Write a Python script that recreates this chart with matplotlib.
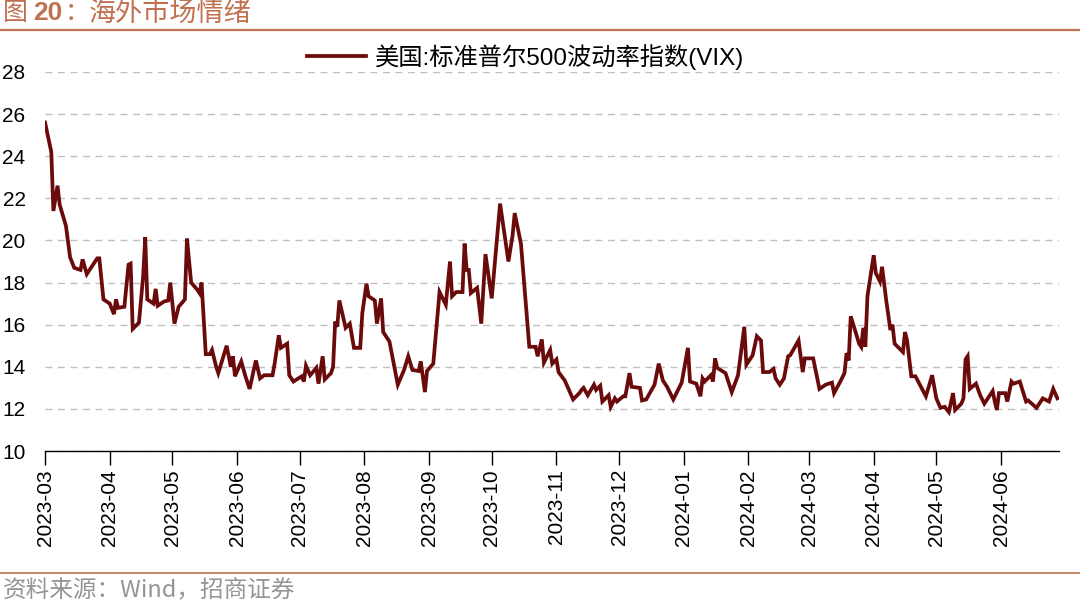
import matplotlib.pyplot as plt
import matplotlib.dates as mdates
from matplotlib.lines import Line2D
import pandas as pd

plt.rcParams['font.family'] = ['Liberation Sans', 'Noto Sans CJK SC', 'DejaVu Sans']

# VIX 读数
dates = [
    '2023-03-01', '2023-03-04', '2023-03-05', '2023-03-07', '2023-03-08', '2023-03-11', '2023-03-13',
    '2023-03-15', '2023-03-18', '2023-03-19', '2023-03-21', '2023-03-26', '2023-03-27', '2023-03-29',
    '2023-04-01', '2023-04-03', '2023-04-04', '2023-04-05', '2023-04-08', '2023-04-10', '2023-04-11',
    '2023-04-12', '2023-04-15', '2023-04-17', '2023-04-18', '2023-04-19', '2023-04-22', '2023-04-23',
    '2023-04-24', '2023-04-27', '2023-04-29', '2023-04-30', '2023-05-02', '2023-05-04', '2023-05-07',
    '2023-05-08', '2023-05-10', '2023-05-13', '2023-05-14', '2023-05-15', '2023-05-17', '2023-05-19',
    '2023-05-20', '2023-05-22', '2023-05-23', '2023-05-27', '2023-05-29', '2023-05-30', '2023-05-31',
    '2023-06-03', '2023-06-05', '2023-06-07', '2023-06-10', '2023-06-12', '2023-06-14', '2023-06-18',
    '2023-06-19', '2023-06-21', '2023-06-22', '2023-06-25', '2023-06-26', '2023-06-28', '2023-07-02',
    '2023-07-03', '2023-07-04', '2023-07-06', '2023-07-09', '2023-07-10', '2023-07-12', '2023-07-13',
    '2023-07-16', '2023-07-17', '2023-07-18', '2023-07-19', '2023-07-20', '2023-07-23', '2023-07-25',
    '2023-07-27', '2023-07-30', '2023-07-31', '2023-08-02', '2023-08-03', '2023-08-06', '2023-08-07',
    '2023-08-09', '2023-08-10', '2023-08-13', '2023-08-17', '2023-08-20', '2023-08-22', '2023-08-24',
    '2023-08-27', '2023-08-28', '2023-08-30', '2023-08-31', '2023-09-03', '2023-09-06', '2023-09-07',
    '2023-09-09', '2023-09-11', '2023-09-12', '2023-09-14', '2023-09-17', '2023-09-18', '2023-09-19',
    '2023-09-20', '2023-09-21', '2023-09-24', '2023-09-26', '2023-09-28', '2023-10-01', '2023-10-05',
    '2023-10-09', '2023-10-11', '2023-10-12', '2023-10-15', '2023-10-19', '2023-10-22', '2023-10-23',
    '2023-10-25', '2023-10-26', '2023-10-29', '2023-10-30', '2023-11-01', '2023-11-02', '2023-11-05',
    '2023-11-07', '2023-11-09', '2023-11-12', '2023-11-13', '2023-11-14', '2023-11-16', '2023-11-19',
    '2023-11-20', '2023-11-22', '2023-11-23', '2023-11-26', '2023-11-27', '2023-11-29', '2023-11-30',
    '2023-12-03', '2023-12-04', '2023-12-06', '2023-12-07', '2023-12-11', '2023-12-12', '2023-12-14',
    '2023-12-18', '2023-12-20', '2023-12-22', '2023-12-24', '2023-12-27', '2023-12-31', '2024-01-03',
    '2024-01-04', '2024-01-07', '2024-01-09', '2024-01-10', '2024-01-11', '2024-01-14', '2024-01-15',
    '2024-01-16', '2024-01-17', '2024-01-21', '2024-01-24', '2024-01-27', '2024-01-30', '2024-01-31',
    '2024-02-03', '2024-02-05', '2024-02-07', '2024-02-08', '2024-02-11', '2024-02-13', '2024-02-14',
    '2024-02-16', '2024-02-18', '2024-02-20', '2024-02-21', '2024-02-23', '2024-02-25', '2024-02-27',
    '2024-02-28', '2024-03-03', '2024-03-06', '2024-03-09', '2024-03-12', '2024-03-13', '2024-03-16',
    '2024-03-18', '2024-03-19', '2024-03-20', '2024-03-21', '2024-03-25', '2024-03-26', '2024-03-27',
    '2024-03-28', '2024-03-29', '2024-04-01', '2024-04-02', '2024-04-04', '2024-04-05', '2024-04-07',
    '2024-04-09', '2024-04-10', '2024-04-11', '2024-04-15', '2024-04-16', '2024-04-17', '2024-04-19',
    '2024-04-21', '2024-04-26', '2024-04-29', '2024-05-01', '2024-05-03', '2024-05-05', '2024-05-07',
    '2024-05-09', '2024-05-10', '2024-05-13', '2024-05-14', '2024-05-15', '2024-05-16', '2024-05-17',
    '2024-05-20', '2024-05-22', '2024-05-24', '2024-05-28', '2024-05-29', '2024-05-30', '2024-05-31',
    '2024-06-03', '2024-06-04', '2024-06-06', '2024-06-07', '2024-06-10', '2024-06-13', '2024-06-14',
    '2024-06-18', '2024-06-21', '2024-06-24', '2024-06-26', '2024-06-28',
]
vix = [
    25.6, 24.2, 21.4, 22.6, 21.7, 20.7, 19.2,
    18.7, 18.6, 19.1, 18.4, 19.15, 19.15, 17.2,
    17.0, 16.5, 17.2, 16.8, 16.85, 18.85, 18.9,
    15.8, 16.1, 18.3, 20.15, 17.2, 17.0, 17.7,
    16.9, 17.1, 17.15, 18.0, 16.05, 16.85, 17.2,
    20.1, 18.0, 17.65, 17.5, 18.0, 14.6, 14.6,
    14.8, 14.0, 13.7, 15.0, 14.0, 14.5, 13.55,
    14.25, 13.55, 12.95, 14.3, 13.45, 13.6, 13.6,
    14.15, 15.5, 14.9, 15.1, 13.6, 13.3, 13.55,
    13.3, 14.05, 13.6, 13.95, 13.2, 14.5, 13.4,
    13.7, 14.0, 16.15, 15.9, 17.15, 15.85, 16.05,
    14.9, 14.9, 16.55, 17.95, 17.35, 17.15, 16.05,
    17.25, 15.65, 15.2, 13.15, 13.85, 14.5, 13.85,
    13.8, 14.25, 12.8, 13.8, 14.15, 17.55, 17.35,
    16.95, 19.0, 17.35, 17.55, 17.55, 19.85, 18.6,
    18.6, 17.5, 17.75, 16.05, 19.35, 17.25, 21.75,
    19.0, 20.25, 21.3, 19.85, 14.95, 14.95, 14.5,
    15.3, 14.2, 14.8, 14.15, 14.35, 13.75, 13.35,
    12.9, 12.45, 12.75, 12.9, 13.0, 12.65, 13.15,
    12.9, 13.1, 12.35, 12.65, 12.1, 12.5, 12.35,
    12.6, 12.6, 13.7, 13.05, 13.0, 12.4, 12.45,
    13.15, 14.15, 13.35, 13.05, 12.45, 13.25, 14.9,
    13.3, 13.2, 12.6, 13.45, 13.3, 13.6, 13.3,
    14.4, 13.95, 13.7, 12.8, 13.6, 15.9, 14.1,
    14.55, 15.45, 15.25, 13.75, 13.75, 13.9, 13.45,
    13.15, 13.45, 14.5, 14.55, 14.9, 15.25, 13.75,
    14.4, 14.4, 12.95, 13.15, 13.25, 12.75, 13.3,
    13.7, 14.65, 14.3, 16.4, 15.1, 14.95, 15.85,
    14.95, 17.35, 19.3, 18.45, 18.05, 18.75, 17.15,
    15.75, 16.0, 15.1, 14.7, 15.65, 15.25, 13.55,
    13.55, 12.6, 13.6, 12.5, 12.05, 12.1, 11.85,
    12.75, 11.95, 12.25, 12.5, 14.35, 14.5, 12.95,
    13.2, 12.65, 12.25, 12.85, 12.35, 11.95, 12.75,
    12.75, 12.35, 13.3, 13.2, 13.3, 12.35, 12.4,
    12.05, 12.5, 12.35, 12.95, 12.5,
]
series_name = '美国:标准普尔500波动率指数(VIX)'
y_ticks = [10, 12, 14, 16, 18, 20, 22, 24, 26, 28]

x = pd.to_datetime(dates)

fig = plt.figure(figsize=(10.8, 6.05), dpi=100)
ax = fig.add_axes([0.0417, 0.2545, 0.9393, 0.6265])

line, = ax.plot(x, vix, color='#6B0A0A', linewidth=2.7, solid_joinstyle='miter')

ax.set_ylim(10, 28)
ax.set_yticks(y_ticks)
ax.set_xlim(pd.Timestamp('2023-03-01'), pd.Timestamp('2024-06-29'))
ax.xaxis.set_major_locator(mdates.MonthLocator())
ax.xaxis.set_major_formatter(mdates.DateFormatter('%Y-%m'))
ax.tick_params(axis='x', rotation=90, labelsize=15, length=10, width=1, direction='out', pad=3)
ax.tick_params(axis='y', labelsize=15, length=0, pad=14)

# 网格线
ax.grid(axis='y', linestyle=(0, (5, 4)), color='#BFBFBF', linewidth=1)
ax.set_axisbelow(True)
for s in ['left', 'right', 'top']:
    ax.spines[s].set_visible(False)
ax.spines['bottom'].set_color('black')
ax.spines['bottom'].set_linewidth(1)

fig.legend([line], [series_name], loc='center', bbox_to_anchor=(0.487, 0.906),
           frameon=False, handlelength=2.4, handletextpad=0.4,
           prop={'family': ['Liberation Sans', 'Noto Sans CJK SC', 'DejaVu Sans'], 'size': 17.5})

# 标题和来源
title_color = '#C0714F'
cjk = ['Noto Sans CJK SC', 'DejaVu Sans']
fig.text(0.003, 0.978, '图', fontsize=18, color=title_color, va='center', ha='left', family=cjk)
fig.text(0.031, 0.978, '20', fontsize=19, color=title_color, va='center', ha='left',
         fontweight='bold', family=['Liberation Sans'])
fig.text(0.060, 0.978, '：', fontsize=18, color=title_color, va='center', ha='left', family=cjk)
fig.text(0.082, 0.978, '海外市场情绪', fontsize=19.5, color=title_color, va='center', ha='left',
         family=cjk)
fig.add_artist(Line2D([0, 1], [0.95, 0.95], color=title_color, linewidth=1.6, transform=fig.transFigure))
fig.add_artist(Line2D([0, 1], [0.053, 0.053], color=title_color, linewidth=1.2, transform=fig.transFigure))
fig.text(0.003, 0.025, '资料来源：Wind，招商证券', fontsize=17, color='#959595', va='center', ha='left',
         family=['Noto Sans CJK SC', 'DejaVu Sans'])

fig.savefig('out.png', dpi=100)
